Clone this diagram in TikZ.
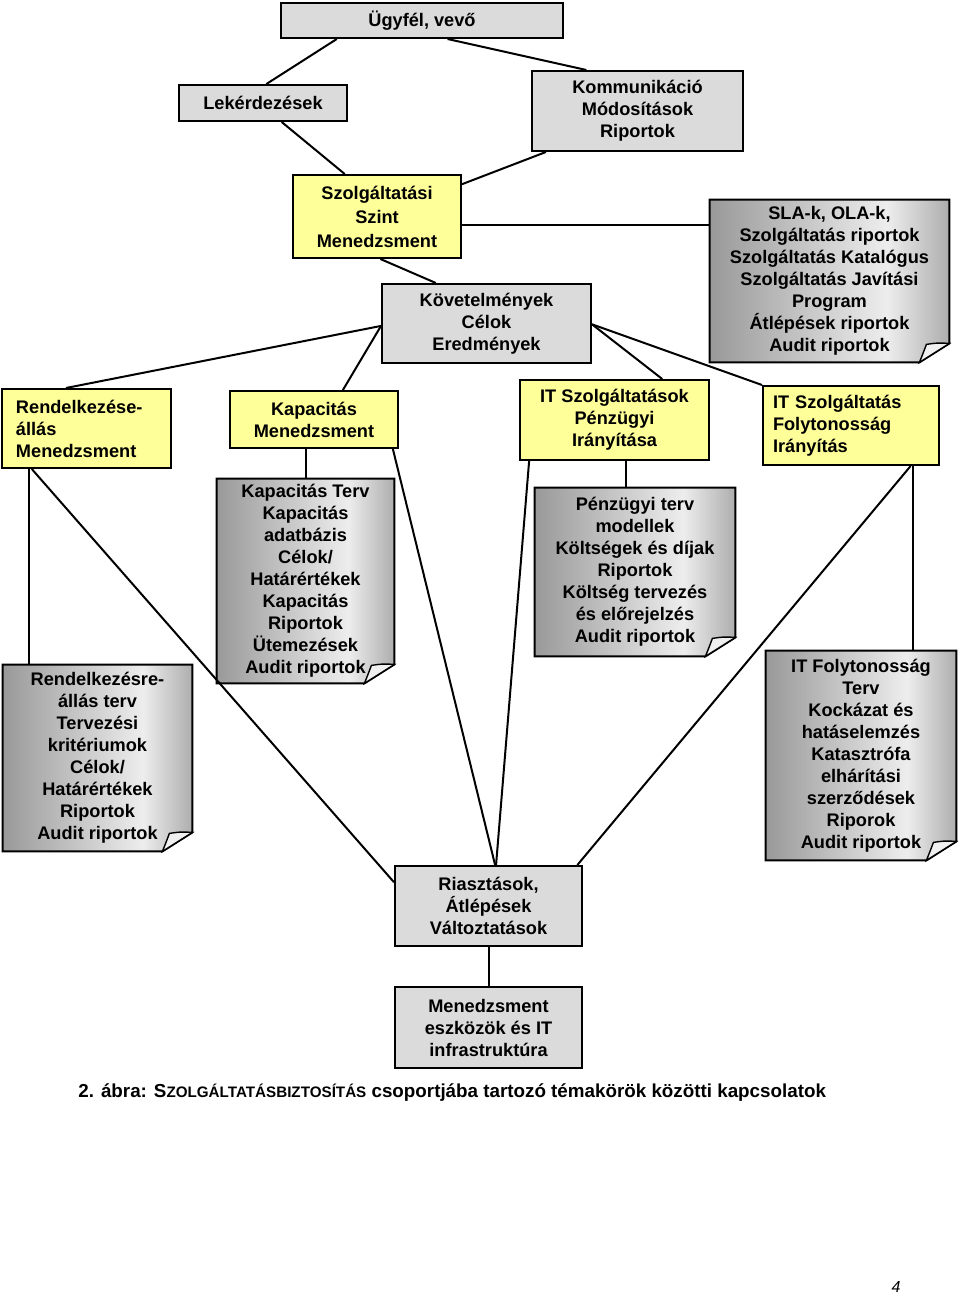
\documentclass[tikz,border=0pt]{standalone}
\usepackage{fontspec}
\setmainfont{Liberation Sans}
\usetikzlibrary{calc,backgrounds}
\definecolor{boxgray}{gray}{0.86}
\definecolor{boxyellow}{HTML}{FFFF99}
\definecolor{docL}{gray}{0.60}
\definecolor{docM}{gray}{0.93}
\definecolor{docR}{gray}{0.68}
\pgfdeclarehorizontalshading{docshade}{100bp}{color(0bp)=(docL); color(25bp)=(docL); color(62bp)=(docM); color(75bp)=(docR); color(100bp)=(docR)}
\newcommand\mydocshape[1]{%
  \path[draw, line width=1pt, shade, shading=docshade] (#1.north west) -- (#1.north east) -- ([yshift=9.5pt]#1.south east) -- ([xshift=-15pt]#1.south east) -- (#1.south west) -- cycle;
  \draw[line width=0.7pt, fill=gray!12] ([xshift=-15pt]#1.south east) .. controls ([xshift=-13pt,yshift=5pt]#1.south east) .. ([xshift=-11.5pt,yshift=9pt]#1.south east) .. controls ([xshift=-6pt,yshift=9.8pt]#1.south east) .. ([yshift=9.5pt]#1.south east) -- cycle;
}
\begin{document}
\begin{tikzpicture}[x=0.5pt,y=-0.5pt,
  every node/.style={font=\fontsize{9.1}{11}\selectfont\bfseries, align=center, inner sep=0pt},
  graybox/.style={draw, line width=1pt, fill=boxgray},
  yellowbox/.style={draw, line width=1pt, fill=boxyellow},
  docnode/.style={},
  conn/.style={line width=1pt}]
\useasboundingbox (0,0) rectangle (960,1296);

% top section
\node[graybox, minimum width=141pt, minimum height=17.5pt] (ugyfel) at (422,20.5) {Ügyfél, vevő};
\node[graybox, minimum width=84pt, minimum height=18pt] (lek) at (263,103) {Lekérdezések};
\node[graybox, minimum width=105.5pt, minimum height=40pt] (komm) at (637.5,111) {Kommunikáció\\Módosítások\\Riportok};
\node[yellowbox, minimum width=84pt, minimum height=41.5pt, font=\fontsize{9.1}{12}\selectfont\bfseries] (szsm) at (377,216.5) {Szolgáltatási\\Szint\\Menedzsment};
\node[docnode, minimum width=119.5pt, minimum height=81pt] (sla) at (829.5,281) {SLA-k, OLA-k,\\Szolgáltatás riportok\\Szolgáltatás Katalógus\\Szolgáltatás Javítási\\Program\\Átlépések riportok\\Audit riportok};
\node[graybox, minimum width=104.5pt, minimum height=39.5pt] (kov) at (486.5,323.5) {Követelmények\\Célok\\Eredmények};

% process row
\node[yellowbox, text width=70.5pt, inner xsep=7pt, minimum height=39.5pt, align=left] (rend) at (86.5,428.5) {Rendelkezése-\\állás\\Menedzsment};
\node[yellowbox, minimum width=84pt, minimum height=28.5pt] (kapm) at (314,419.5) {Kapacitás\\Menedzsment};
\node[yellowbox, minimum width=94.5pt, minimum height=40pt] (penzm) at (614.5,420) {IT Szolgáltatások\\Pénzügyi\\Irányítása};
\node[yellowbox, text width=78pt, inner xsep=5pt, minimum height=39.5pt, align=left] (folym) at (851,425.5) {IT Szolgáltatás\\Folytonosság\\Irányítás};

% documents
\node[docnode, minimum width=88.5pt, minimum height=102pt] (kapt) at (305.5,581) {Kapacitás Terv\\Kapacitás\\adatbázis\\Célok/\\Határértékek\\Kapacitás\\Riportok\\Ütemezések\\Audit riportok};
\node[docnode, minimum width=100pt, minimum height=84pt] (penzt) at (635,572) {Pénzügyi terv\\modellek\\Költségek és díjak\\Riportok\\Költség tervezés\\és előrejelzés\\Audit riportok};
\node[docnode, minimum width=94.5pt, minimum height=93pt] (rendt) at (97.5,758) {Rendelkezésre-\\állás terv\\Tervezési\\kritériumok\\Célok/\\Határértékek\\Riportok\\Audit riportok};
\node[docnode, minimum width=95pt, minimum height=104.5pt] (folyt) at (861,755.5) {IT Folytonosság\\Terv\\Kockázat és\\hatáselemzés\\Katasztrófa\\elhárítási\\szerződések\\Riporok\\Audit riportok};

% bottom
\node[graybox, minimum width=93.5pt, minimum height=40pt] (riaszt) at (488.5,906) {Riasztások,\\Átlépések\\Változtatások};
\node[graybox, minimum width=93.5pt, minimum height=40.5pt] (menedzs) at (488.5,1027.5) {Menedzsment\\eszközök és IT\\infrastruktúra};

\node[anchor=west, font=\fontsize{9.4}{11}\selectfont\bfseries] (caption) at (78,1093) {2. ábra: S{\fontsize{7.6}{11}\selectfont ZOLGÁLTATÁSBIZTOSÍTÁS} csoportjába tartozó témakörök közötti kapcsolatok};
\node[font=\fontsize{8}{10}\selectfont\mdseries\itshape] (pagenum) at (896,1287) {4};

\begin{scope}[on background layer]
  \fill[white] (0,0) rectangle (960,1296);
  \mydocshape{sla}
  \mydocshape{kapt}
  \mydocshape{penzt}
  \mydocshape{rendt}
  \mydocshape{folyt}
\end{scope}

% connectors
\draw[conn] ($(ugyfel.south west)!0.20!(ugyfel.south east)$) -- ($(lek.north west)!0.52!(lek.north east)$);
\draw[conn] ($(ugyfel.south west)!0.59!(ugyfel.south east)$) -- ($(komm.north west)!0.26!(komm.north east)$);
\draw[conn] ($(lek.south west)!0.61!(lek.south east)$) -- ($(szsm.north west)!0.31!(szsm.north east)$);
\draw[conn] ($(komm.south west)!0.07!(komm.south east)$) -- ($(szsm.north east)!0.12!(szsm.south east)$);
\draw[conn] ($(szsm.north east)!0.6!(szsm.south east)$) coordinate (sz1) -- (sla.west |- sz1);
\draw[conn] ($(szsm.south west)!0.52!(szsm.south east)$) -- ($(kov.north west)!0.26!(kov.north east)$);
\draw[conn] ($(kov.north west)!0.53!(kov.south west)$) -- ($(rend.north west)!0.38!(rend.north east)$);
\draw[conn] ($(kov.north west)!0.53!(kov.south west)$) -- ($(kapm.north west)!0.67!(kapm.north east)$);
\draw[conn] ($(kov.north east)!0.51!(kov.south east)$) -- ($(penzm.north west)!0.75!(penzm.north east)$);
\draw[conn] ($(kov.north east)!0.51!(kov.south east)$) -- (folym.north west);
\draw[conn] ($(rend.south west)!0.166!(rend.south east)$) coordinate (r1) -- (r1 |- rendt.north);
\draw[conn] ($(rend.south west)!0.18!(rend.south east)$) -- ($(riaszt.north west)!0.21!(riaszt.south west)$);
\draw[conn] ($(kapm.south west)!0.45!(kapm.south east)$) coordinate (k1) -- (k1 |- kapt.north);
\draw[conn] ($(kapm.south west)!0.964!(kapm.south east)$) -- ($(riaszt.north west)!0.535!(riaszt.north east)$);
\draw[conn] ($(penzm.south west)!0.56!(penzm.south east)$) coordinate (p1) -- (p1 |- penzt.north);
\draw[conn] ($(penzm.south west)!0.053!(penzm.south east)$) -- ($(riaszt.north west)!0.54!(riaszt.north east)$);
\draw[conn] ($(folym.south west)!0.847!(folym.south east)$) coordinate (f1) -- (f1 |- folyt.north);
\draw[conn] ($(folym.south west)!0.835!(folym.south east)$) -- ($(riaszt.north west)!0.97!(riaszt.north east)$);
\draw[conn] (riaszt.south) -- (menedzs.north);
\end{tikzpicture}
\end{document}
